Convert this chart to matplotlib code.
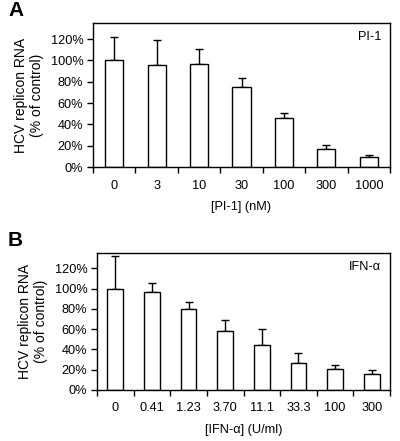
import matplotlib
matplotlib.use("Agg")
import matplotlib.pyplot as plt
import numpy as np
from matplotlib.ticker import FixedLocator, PercentFormatter

plt.rcParams['font.family'] = ['Liberation Sans', 'DejaVu Sans']

pi1_labels = ["0", "3", "10", "30", "100", "300", "1000"]
pi1_values = [100, 95.5, 96.5, 75, 45.5, 16.5, 9]
pi1_err = [21.5, 23.5, 14, 8.5, 5.5, 4.5, 2.5]

ifn_labels = ["0", "0.41", "1.23", "3.70", "11.1", "33.3", "100", "300"]
ifn_values = [100, 96.5, 80, 58, 44.5, 27, 20.5, 15.5]
ifn_err = [32, 9, 7, 10.5, 16, 9, 4, 4.5]

W, H = 400, 441
fig = plt.figure(figsize=(W / 100, H / 100), dpi=100)
FS = 9.2


def panel(rect, labels, values, errs, xlabel, tag, letter, letter_y, tick_pad, xl_pad):
    l, t, r, b = rect
    ax = fig.add_axes([l / W, 1 - b / H, (r - l) / W, (b - t) / H])
    n = len(labels)
    x = np.arange(n)
    ax.bar(x, values, width=0.43, color="white", edgecolor="black", linewidth=1.0, zorder=2)
    ax.errorbar(x, values, yerr=[np.zeros(n), errs], fmt="none", ecolor="black",
                elinewidth=1.0, capsize=3, capthick=1.0, zorder=1)
    ax.set_xlim(-0.5, n - 0.5)
    ax.set_ylim(0, 135)
    ax.set_yticks([0, 20, 40, 60, 80, 100, 120])
    ax.yaxis.set_major_formatter(PercentFormatter(decimals=0))
    ax.xaxis.set_major_locator(FixedLocator(np.arange(n + 1) - 0.5))
    ax.xaxis.set_minor_locator(FixedLocator(x))
    ax.set_xticklabels([])
    ax.set_xticklabels(labels, minor=True)
    ax.tick_params(axis="x", which="major", direction="out", length=4, width=1)
    ax.tick_params(axis="x", which="minor", length=0, pad=tick_pad, labelsize=FS)
    ax.tick_params(axis="y", direction="out", length=4, width=1, labelsize=FS, pad=3)
    for s in ax.spines.values():
        s.set_linewidth(1.0)
    ax.set_ylabel("HCV replicon RNA\n(% of control)", fontsize=10, linespacing=1.15, labelpad=5)
    ax.set_xlabel(xlabel, fontsize=FS, labelpad=xl_pad)
    ax.text(0.97, 0.9, tag, transform=ax.transAxes, ha="right", va="center", fontsize=FS)
    fig.text(8 / W, 1 - letter_y / H, letter, fontsize=15, fontweight="bold", ha="left", va="center")
    return ax


panel((93, 23, 390, 167), pi1_labels, pi1_values, pi1_err, "[PI-1] (nM)", "PI-1", "A", 11, 9.5, 6.5)
panel((97, 253, 390, 390), ifn_labels, ifn_values, ifn_err, "[IFN-α] (U/ml)", "IFN-α", "B", 240, 8.5, 7)

fig.savefig("out.png", dpi=100)
